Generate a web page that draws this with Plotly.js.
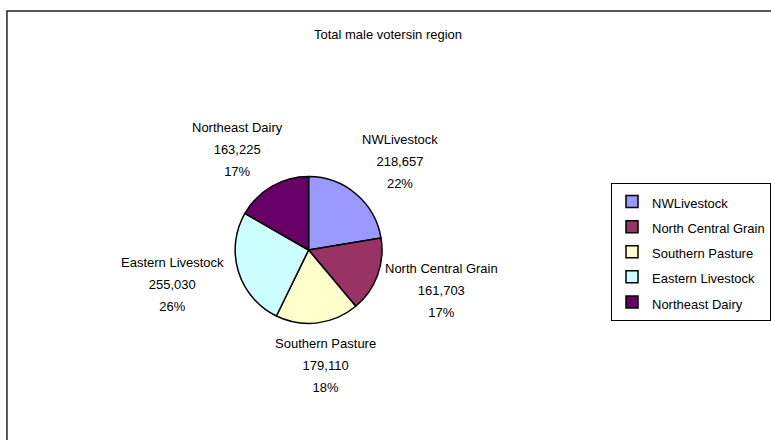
<!DOCTYPE html>
<html>
<head>
<meta charset="utf-8">
<script src="https://cdn.plot.ly/plotly-3.0.1.min.js"></script>
<style>
html,body{margin:0;padding:0;background:#fff;}
#chart{width:771px;height:440px;}
</style>
</head>
<body>
<div id="chart"></div>
<script>
const chartTitle = "Total male votersin region";
const categories = ["NWLivestock", "North Central Grain", "Southern Pasture", "Eastern Livestock", "Northeast Dairy"];
const voters = [218657, 161703, 179110, 255030, 163225];
const sliceColors = ["#9999FF", "#993366", "#FFFFCC", "#CCFFFF", "#660066"];

const W = 771, H = 440;
const span = s => '<span style="font-size:13px">' + s + '</span>';

// pie geometry (pixels)
const cx = 311, cy = 250, R = 74;

const trace = {
  type: 'pie',
  labels: categories.map(span),
  values: voters,
  sort: false,
  direction: 'clockwise',
  rotation: 0,
  marker: {colors: sliceColors, line: {color: '#000', width: 1.5}},
  textinfo: 'none',
  hoverinfo: 'none',
  domain: {x: [(cx - R) / W, (cx + R) / W], y: [(H - cy - R) / H, (H - cy + R) / H]}
};

// data labels placed around the pie at each slice's mid-angle
const total = voters.reduce((a, b) => a + b, 0);
const annotations = [];
let cum = 0;
voters.forEach((v, i) => {
  const mid = (cum + v / 2) / total * 2 * Math.PI;
  cum += v;
  const px = cx + 143 * Math.sin(mid);
  const py = cy - 116 * Math.cos(mid);
  annotations.push({
    xref: 'paper', yref: 'paper',
    x: px / W, y: (H - py) / H,
    xanchor: 'center', yanchor: 'middle',
    showarrow: false,
    align: 'center',
    font: {size: 17, color: '#000'},
    text: span(categories[i]) + '<br>' + span(v.toLocaleString('en-US')) + '<br>' + span(Math.round(v / total * 100) + '%')
  });
});

const layout = {
  width: W, height: H,
  margin: {l: 0, r: 0, t: 0, b: 0},
  paper_bgcolor: '#fff',
  plot_bgcolor: '#fff',
  font: {family: 'Liberation Sans, Arial, sans-serif', color: '#000'},
  title: {text: chartTitle, font: {size: 13, color: '#000'}, x: 388 / W, xanchor: 'center', y: (H - 34) / H, yanchor: 'middle'},
  showlegend: true,
  legend: {
    x: 616 / W, xanchor: 'left', y: (H - 183) / H, yanchor: 'top',
    bordercolor: '#000', borderwidth: 1, bgcolor: '#fff',
    font: {size: 17, color: '#000'}
  },
  annotations: annotations,
  shapes: [{
    type: 'rect', xref: 'paper', yref: 'paper',
    x0: 7 / W, x1: 1.02, y0: -0.05, y1: (H - 11) / H,
    line: {color: '#222', width: 1.5}
  }]
};

Plotly.newPlot('chart', [trace], layout, {displayModeBar: false, staticPlot: true});
</script>
</body>
</html>
